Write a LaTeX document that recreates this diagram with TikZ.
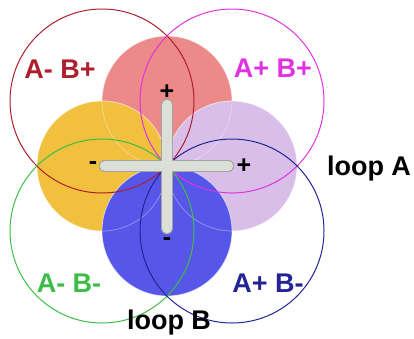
\documentclass[tikz,border=0pt]{standalone}
\usepackage{fontspec}
\setmainfont{Liberation Sans}
\definecolor{petalred}{RGB}{236, 138, 138}
\definecolor{petalyellow}{RGB}{241, 192, 62}
\definecolor{petallilac}{RGB}{216, 190, 232}
\definecolor{petalblue}{RGB}{86, 86, 232}
\definecolor{ringred}{RGB}{175, 30, 45}
\definecolor{ringmagenta}{RGB}{225, 50, 225}
\definecolor{ringgreen}{RGB}{60, 190, 70}
\definecolor{ringnavy}{RGB}{35, 35, 150}
\definecolor{barfill}{RGB}{220, 222, 216}
\definecolor{baredge}{RGB}{165, 165, 160}
\usetikzlibrary{positioning}

\begin{document}
\begin{tikzpicture}[x=1pt, y=-1pt,
    petal/.style={fill=#1, draw=white, draw opacity=0.35, line width=0.8pt},
    ring/.style={draw=#1, line width=1pt},
    barline/.style={line cap=round, line width=#1},
    sign/.style={font=\fontsize{25}{25}\selectfont\bfseries, inner sep=0pt},
    quadlabel/.style={font=\fontsize{27}{27}\selectfont\bfseries, text=#1, anchor=base, inner sep=0pt},
    looplabel/.style={font=\fontsize{27}{27}\selectfont\bfseries, anchor=base, inner sep=0pt}]
    \useasboundingbox (0, 0) rectangle (414, 338);

    % Filled petals
    \fill[petal=petalred] (167, 101) circle (65);
    \fill[petal=petalyellow] (102, 166) circle (65);
    \fill[petal=petallilac] (232, 166) circle (65);
    \fill[petal=petalblue] (167, 231) circle (65);
    \draw[petal=none, fill=none] (167, 101) circle (65) (102, 166) circle (65)
        (232, 166) circle (65) (167, 231) circle (65);

    % Rings of the four quadrants
    \draw[ring=ringred] (102, 101) circle (92);
    \draw[ring=ringmagenta] (232, 101) circle (92);
    \draw[ring=ringgreen] (102, 231) circle (92);
    \draw[ring=ringnavy] (232, 231) circle (92);

    % Cross
    \coordinate (top) at (167, 105);
    \coordinate (bottom) at (167, 228);
    \coordinate (left) at (105, 166);
    \coordinate (right) at (228, 166);
    \draw[barline=12.5pt, baredge] (top) -- (bottom) (left) -- (right);
    \draw[barline=10.5pt, barfill] (top) -- (bottom) (left) -- (right);

    % Signs
    \node[sign] (plustop) at (167, 92) {+};
    \node[sign] (minusleft) at (93, 166) {-};
    \node[sign] (plusright) at (244, 166) {+};
    \node[sign] (minusbottom) at (167, 242) {-};

    % Quadrant labels
    \node[quadlabel=ringred] (amBp) at (60, 78) {A- B+};
    \node[quadlabel=ringmagenta] (apBp) at (273, 77) {A+ B+};
    \node[quadlabel=ringgreen] (amBm) at (69, 292) {A- B-};
    \node[quadlabel=ringnavy] (apBm) at (268, 292) {A+ B-};

    % Loops
    \node[looplabel] (loopA) at (369, 175) {loop A};
    \node[looplabel] (loopB) at (169, 329) {loop B};
\end{tikzpicture}
\end{document}
